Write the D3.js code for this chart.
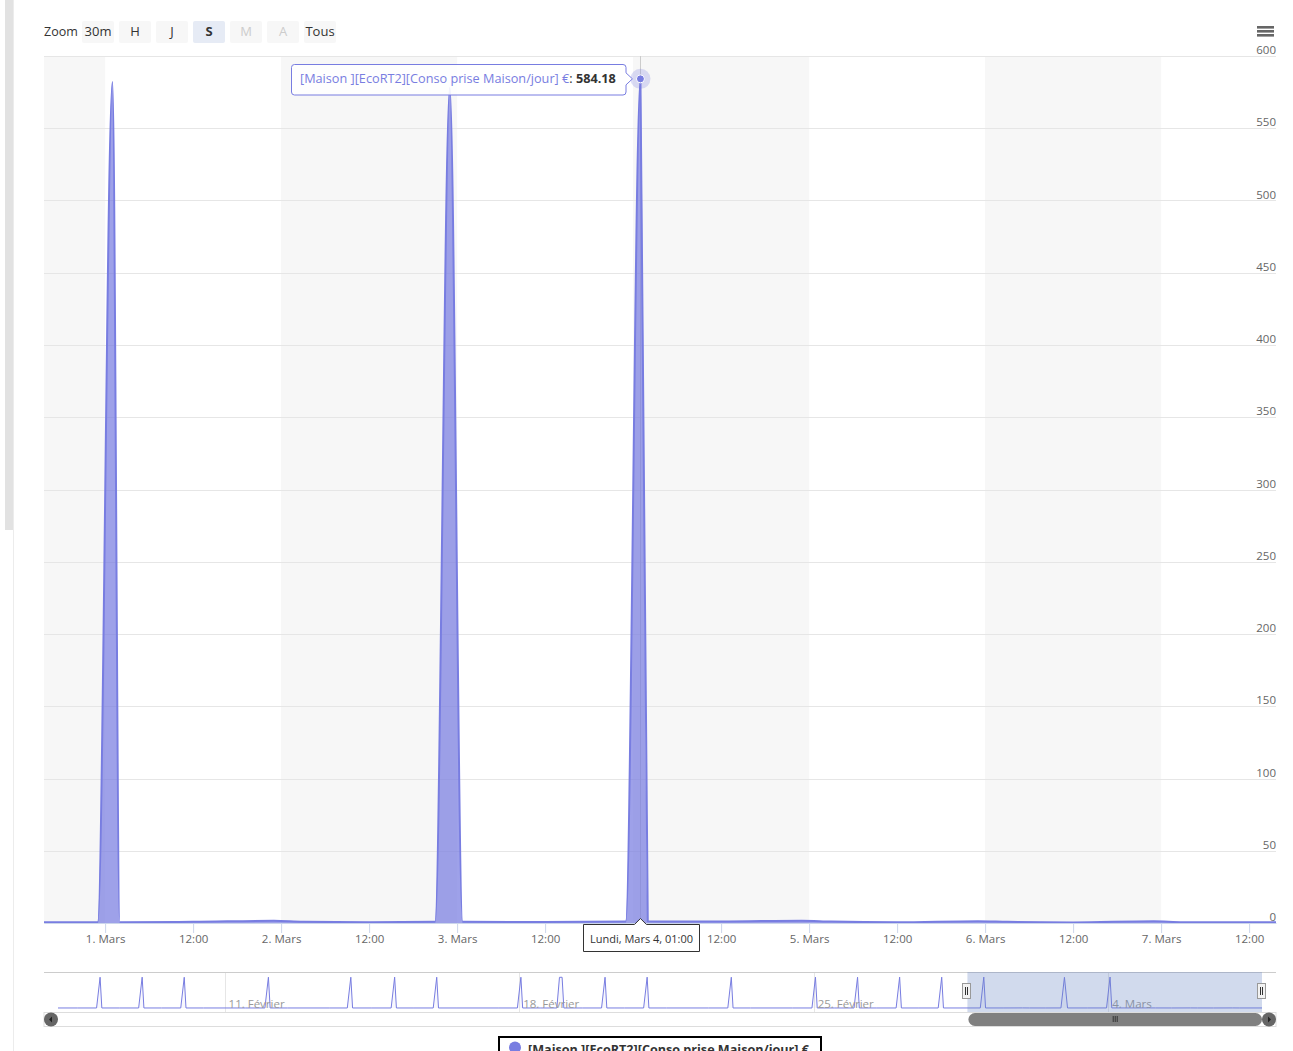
<!DOCTYPE html>
<html><head><meta charset="utf-8">
<script src="https://cdn.jsdelivr.net/npm/d3@7"></script>
<style>
body{margin:0;background:#fff;}
svg{display:block;font-family:"Open Sans","Noto Sans",sans-serif;}
</style></head>
<body><svg id="c" width="1293" height="1051"></svg>
<script>
// ---------------- DATA ----------------
const seriesName = "[Maison ][EcoRT2][Conso prise Maison/jour] €";
const times = [
"2019-02-07T01:00","2019-02-07T12:00","2019-02-07T23:00","2019-02-08T01:00","2019-02-08T02:00",
"2019-02-08T12:00","2019-02-08T23:00","2019-02-09T01:00","2019-02-09T02:00",
"2019-02-09T12:00","2019-02-09T23:00","2019-02-10T01:00","2019-02-10T02:00",
"2019-02-10T12:00","2019-02-11T12:00","2019-02-11T23:00","2019-02-12T01:00","2019-02-12T02:00",
"2019-02-12T12:00","2019-02-13T12:00","2019-02-13T22:00","2019-02-14T00:00","2019-02-14T01:00",
"2019-02-14T12:00","2019-02-14T23:00","2019-02-15T01:00","2019-02-15T02:00",
"2019-02-15T12:00","2019-02-15T23:00","2019-02-16T01:00","2019-02-16T02:00",
"2019-02-16T12:00","2019-02-17T12:00","2019-02-17T23:00","2019-02-18T01:00","2019-02-18T02:00",
"2019-02-18T12:00","2019-02-18T21:30","2019-02-18T23:00","2019-02-19T00:30","2019-02-19T01:30",
"2019-02-19T12:00","2019-02-19T23:00","2019-02-20T01:00","2019-02-20T02:00",
"2019-02-20T12:00","2019-02-20T23:00","2019-02-21T01:00","2019-02-21T02:00",
"2019-02-21T12:00","2019-02-22T12:00","2019-02-22T23:00","2019-02-23T01:00","2019-02-23T02:00",
"2019-02-23T12:00","2019-02-24T12:00","2019-02-24T23:00","2019-02-25T01:00","2019-02-25T02:00",
"2019-02-25T12:00","2019-02-25T23:00","2019-02-26T01:00","2019-02-26T02:00",
"2019-02-26T12:00","2019-02-26T23:00","2019-02-27T01:00","2019-02-27T02:00",
"2019-02-27T12:00","2019-02-27T23:00","2019-02-28T01:00","2019-02-28T02:00",
"2019-02-28T12:00","2019-02-28T23:00","2019-03-01T01:00","2019-03-01T02:00",
"2019-03-01T12:00","2019-03-01T23:00","2019-03-02T03:00","2019-03-02T12:00",
"2019-03-02T21:00","2019-03-02T23:00","2019-03-03T00:45","2019-03-03T12:00",
"2019-03-03T23:00","2019-03-04T01:00","2019-03-04T02:00","2019-03-04T12:00",
"2019-03-04T23:00","2019-03-05T03:00","2019-03-05T12:00","2019-03-05T23:00",
"2019-03-06T03:00","2019-03-06T12:00","2019-03-06T23:00","2019-03-07T03:00","2019-03-07T15:40"
];
const values = [
0.4,0.3,0.5,580,0.5,
0.3,0.5,581,0.5,
0.3,0.5,579,0.5,
0.3,0.4,0.5,580,0.5,
0.3,0.3,0.5,580,0.5,
0.3,0.5,581,0.5,
0.3,0.5,580,0.5,
0.3,0.3,0.5,580,0.5,
0.3,0.5,578,579,0.5,
0.3,0.5,580,0.5,
0.3,0.5,581,0.5,
0.3,0.3,0.5,580,0.5,
0.3,0.3,0.5,581,0.5,
0.3,0.5,580,0.5,
0.3,0.5,582,0.5,
0.3,0.5,581,0.5,
0.4,0.6,582,0.6,
0.8,1.5,0.8,0.5,
0.9,578,0.8,0.7,
1.0,584.18,1.2,1.0,
1.6,1.0,0.5,1.2,
0.8,0.4,1.2,0.6,0.6
];
const yTicks = [0,50,100,150,200,250,300,350,400,450,500,550,600];
const zoomButtons = ["30m","H","J","S","M","A","Tous"];
const zoomSelected = "S";
const zoomDisabled = ["M","A"];
const monthsFr = ["Janvier","Février","Mars","Avril","Mai","Juin","Juillet","Août","Septembre","Octobre","Novembre","Décembre"];
const daysFr = ["Dimanche","Lundi","Mardi","Mercredi","Jeudi","Vendredi","Samedi"];
const viewStart = "2019-02-28T15:40", viewEnd = "2019-03-07T15:40";
const hoverIndex = 84; // Mars 4, 01:00

// ---------------- SETUP ----------------
const parse = s => new Date(s + ":00Z");
const data = times.map((t,i)=>({t:parse(t), v:values[i]}));
const color = "#787de1";
const svg = d3.select("#c");

// page side decoration
svg.append("rect").attr("x",5).attr("y",0).attr("width",8).attr("height",530).attr("fill","#e2e2e2");
svg.append("line").attr("x1",13.5).attr("x2",13.5).attr("y1",0).attr("y2",1051).attr("stroke","#ececec");

const L=44, R=1276, T=56, B=923;
const x = d3.scaleUtc().domain([parse(viewStart), parse(viewEnd)]).range([L,R]);
const y = d3.scaleLinear().domain([0,600]).range([B,T]);

// alternate day bands
const dayStarts = d3.utcDay.range(d3.utcDay.floor(x.domain()[0]), x.domain()[1]);
svg.append("g").selectAll("rect").data(dayStarts).join("rect")
  .attr("x", d=>Math.max(L, x(d)))
  .attr("width", d=>Math.min(R, x(d3.utcDay.offset(d,1))) - Math.max(L,x(d)))
  .attr("y",T).attr("height",B-T)
  .attr("fill",(d,i)=> i%2===0 ? "#f7f7f7" : "none");

// grid
svg.append("g").selectAll("line").data(yTicks).join("line")
  .attr("x1",L).attr("x2",R).attr("y1",d=>Math.round(y(d))+0.5).attr("y2",d=>Math.round(y(d))+0.5)
  .attr("stroke","#e6e6e6");

// y labels
const yAxis = svg.append("g").attr("transform",`translate(${R},0)`)
  .call(d3.axisLeft(y).tickValues(yTicks).tickSize(0).tickPadding(0));
yAxis.select(".domain").remove();
yAxis.selectAll("text").attr("dy",0).attr("y",-2.5).attr("fill","#666").style("font-size","11.5px").style("font-family","Open Sans");

// clip
svg.append("clipPath").attr("id","pc").append("rect").attr("x",L).attr("y",T-20).attr("width",R-L).attr("height",B-T+20);

// crosshair
const hp = data[hoverIndex];
svg.append("line").attr("x1",Math.round(x(hp.t))+0.5).attr("x2",Math.round(x(hp.t))+0.5)
  .attr("y1",T).attr("y2",B).attr("stroke","#cccccc");

// series
const curve = d3.curveMonotoneX;
const area = d3.area().curve(curve).x(d=>x(d.t)).y0(y(0)).y1(d=>y(d.v));
const line = d3.line().curve(curve).x(d=>x(d.t)).y(d=>y(d.v));
const sg = svg.append("g").attr("clip-path","url(#pc)");
sg.append("path").datum(data).attr("d",area).attr("fill",color).attr("fill-opacity",0.72);
sg.append("path").datum(data).attr("d",line).attr("fill","none").attr("stroke",color).attr("stroke-width",2).attr("stroke-linejoin","round");

// x axis
const fmtX = d => d.getUTCHours()===0 ? `${d.getUTCDate()}. ${monthsFr[d.getUTCMonth()]}` : d3.utcFormat("%H:%M")(d);
const xAxis = svg.append("g").attr("transform",`translate(0,${B})`)
  .call(d3.axisBottom(x).ticks(d3.utcHour.every(12)).tickFormat(fmtX).tickSize(10).tickPadding(2).tickSizeOuter(0));
xAxis.select(".domain").attr("stroke","#ccd6eb");
xAxis.selectAll(".tick line").attr("stroke","#ccd6eb");
xAxis.selectAll("text").attr("fill","#666").style("font-size","11.5px").style("font-family","Open Sans");

// hover marker
const hx = x(hp.t), hy = y(hp.v);
svg.append("circle").attr("cx",hx).attr("cy",hy).attr("r",10).attr("fill",color).attr("fill-opacity",0.25);
svg.append("circle").attr("cx",hx).attr("cy",hy).attr("r",4).attr("fill",color).attr("stroke","#fff").attr("stroke-width",1);

// tooltip
const tt = svg.append("g");
const tx0 = 291.5, tx1 = 626, ty0 = 64.5, ty1 = 95;
const ax = hx - 8;
tt.append("path")
  .attr("d",`M${tx0+3},${ty0} L${tx1-3},${ty0} Q${tx1},${ty0} ${tx1},${ty0+3} L${tx1},${hy-6} L${ax},${hy} L${tx1},${hy+6} L${tx1},${ty1-3} Q${tx1},${ty1} ${tx1-3},${ty1} L${tx0+3},${ty1} Q${tx0},${ty1} ${tx0},${ty1-3} L${tx0},${ty0+3} Q${tx0},${ty0} ${tx0+3},${ty0} Z`)
  .attr("fill","rgba(255,255,255,0.88)").attr("stroke",color).attr("stroke-width",1);
const ttText = tt.append("text").attr("x",300).attr("y",83).style("font-size","12.7px");
ttText.append("tspan").attr("fill",color).text(seriesName);
ttText.append("tspan").attr("fill","#333").text(": ");
ttText.append("tspan").attr("fill","#333").attr("font-weight","bold").text(d3.format(".2f")(hp.v));

// x crosshair label
const xl = svg.append("g");
const lx0 = 583.5, lx1 = 699.5, ly0 = 924.5, ly1 = 951.5;
xl.append("path")
  .attr("d",`M${lx0},${ly0} L${hx-6},${ly0} L${hx},${ly0-6} L${hx+6},${ly0} L${lx1},${ly0} L${lx1},${ly1} L${lx0},${ly1} Z`)
  .attr("fill","#fff").attr("stroke","#333").attr("stroke-width",1);
const d0 = hp.t;
xl.append("text").attr("x",(lx0+lx1)/2).attr("y",943).attr("text-anchor","middle").attr("fill","#333").style("font-size","11px")
  .text(`${daysFr[d0.getUTCDay()]}, ${monthsFr[d0.getUTCMonth()]} ${d0.getUTCDate()}, ${d3.utcFormat("%H:%M")(d0)}`);

// ---------------- NAVIGATOR ----------------
const NL=58, NR=1262, NT=972, NB=1012;
const xn = d3.scaleUtc().domain(d3.extent(data,d=>d.t)).range([NL,NR]);
const yn = d3.scaleLinear().domain([0,d3.max(values)]).range([1008,977]);
const nav = svg.append("g");
const navTicks = xn.ticks(d3.utcMonday.every(1));
nav.selectAll("line.g").data(navTicks).join("line").attr("class","g")
  .attr("x1",d=>Math.round(xn(d))+0.5).attr("x2",d=>Math.round(xn(d))+0.5).attr("y1",NT).attr("y2",NB).attr("stroke","#e6e6e6");
nav.append("path").datum(data).attr("d",d3.area().x(d=>xn(d.t)).y0(yn(0)).y1(d=>yn(d.v)))
  .attr("fill",color).attr("fill-opacity",0.05);
nav.append("path").datum(data).attr("d",d3.line().x(d=>xn(d.t)).y(d=>yn(d.v)))
  .attr("fill","none").attr("stroke",color).attr("stroke-width",1);
nav.selectAll("text").data(navTicks).join("text")
  .attr("x",d=>xn(d)+4).attr("y",1008).attr("fill","#999").style("font-size","11.5px")
  .text(d=>`${d.getUTCDate()}. ${monthsFr[d.getUTCMonth()]}`);
nav.append("line").attr("x1",L).attr("x2",R).attr("y1",NT+0.5).attr("y2",NT+0.5).attr("stroke","#cccccc");
const mx0 = xn(parse(viewStart)), mx1 = xn(parse(viewEnd));
nav.append("rect").attr("x",mx0).attr("y",NT).attr("width",mx1-mx0).attr("height",NB-NT).attr("fill","rgba(102,133,194,0.3)");
nav.append("rect").attr("x",L).attr("y",NB+0.5).attr("width",R-L).attr("height",14).attr("fill","#fff").attr("stroke","#dddddd");
nav.append("rect").attr("x",mx0+1).attr("y",NB+1).attr("width",mx1-mx0-1).attr("height",13).attr("rx",6.5).attr("fill","#808080");
[-2,0,2].forEach(o=>nav.append("line").attr("x1",(mx0+mx1)/2+o+0.5).attr("x2",(mx0+mx1)/2+o+0.5).attr("y1",1016).attr("y2",1022).attr("stroke","#333"));
[[51,"l"],[1269,"r"]].forEach(([cx,dir])=>{
  nav.append("circle").attr("cx",cx).attr("cy",1019.5).attr("r",7).attr("fill","#666");
  const p = dir==="l" ? `M${cx+1},${1016.5} L${cx-2},${1019.5} L${cx+1},${1022.5} Z` : `M${cx-1},${1016.5} L${cx+2},${1019.5} L${cx-1},${1022.5} Z`;
  nav.append("path").attr("d",p).attr("fill","#222");
});
[mx0, mx1].forEach(hx2=>{
  const hxx = Math.round(hx2);
  nav.append("rect").attr("x",hxx-4.5).attr("y",983.5).attr("width",8).attr("height",15).attr("fill","#f2f2f2").attr("stroke","#999");
  nav.append("line").attr("x1",hxx-1.5).attr("x2",hxx-1.5).attr("y1",987).attr("y2",995).attr("stroke","#333");
  nav.append("line").attr("x1",hxx+0.5).attr("x2",hxx+0.5).attr("y1",987).attr("y2",995).attr("stroke","#333");
});

// ---------------- ZOOM BUTTONS ----------------
svg.append("text").attr("x",44).attr("y",35.5).attr("fill","#333").style("font-size","12.5px").text("Zoom");
const bg = svg.append("g").selectAll("g").data(zoomButtons).join("g")
  .attr("transform",(d,i)=>`translate(${82+i*37},21)`);
bg.append("rect").attr("width",32).attr("height",22).attr("rx",2)
  .attr("fill",d=>d===zoomSelected?"#e6ebf5":"#f7f7f7");
bg.append("text").attr("x",16).attr("y",14.5).attr("text-anchor","middle").style("font-size","13px")
  .attr("font-weight",d=>d===zoomSelected?"bold":"normal")
  .attr("fill",d=>zoomDisabled.includes(d)?"#cccccc":"#333")
  .text(d=>d);

// hamburger
[26,30,34].forEach(yy=>svg.append("rect").attr("x",1257).attr("y",yy).attr("width",17).attr("height",2.6).attr("fill","#666"));

// ---------------- LEGEND ----------------
svg.append("rect").attr("x",499).attr("y",1037).attr("width",322).attr("height",40).attr("fill","#fff").attr("stroke","#000").attr("stroke-width",2);
svg.append("circle").attr("cx",515).attr("cy",1047.5).attr("r",6).attr("fill",color);
svg.append("text").attr("x",528).attr("y",1053.5).attr("fill","#333").attr("font-weight","bold").style("font-size","12.6px").text(seriesName);
</script></body></html>
